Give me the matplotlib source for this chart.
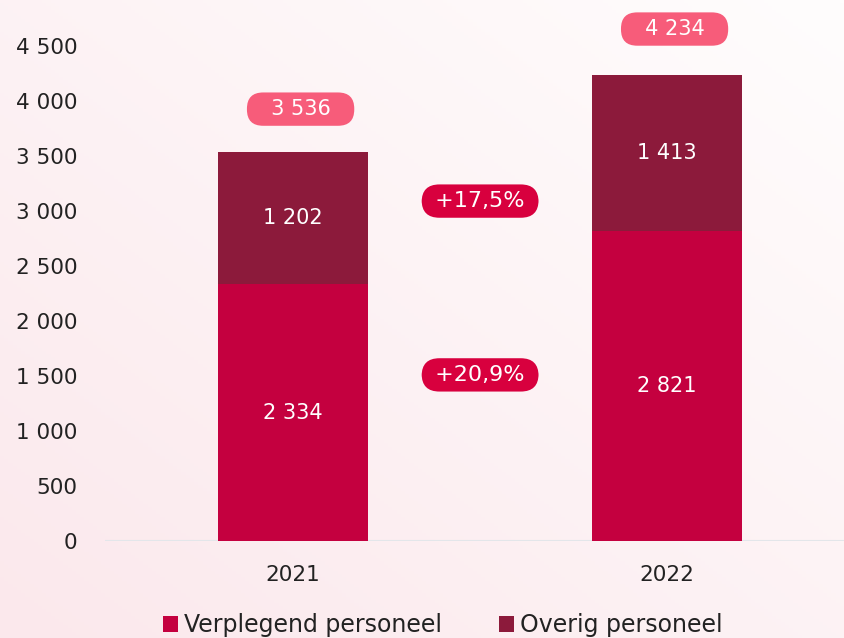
import matplotlib
matplotlib.use('Agg')
import matplotlib.pyplot as plt
import numpy as np

years = ['2021', '2022']
verplegend = [2334, 2821]
overig = [1202, 1413]
totals = [3536, 4234]
growth_labels = ['+20,9%', '+17,5%']
growth_y = [1510, 3090]

c_bottom = '#C4003F'
c_top = '#8C1A3B'
c_total = '#F75C7A'
c_growth = '#D8003E'
txt = '#222222'

plt.rcParams['font.family'] = ['DejaVu Sans']


def fmt(v):
    return f'{v:,}'.replace(',', ' ')


fig = plt.figure(figsize=(8.44, 6.38), dpi=100)

# soft pink gradient background (bottom-left -> white top-right)
bg = fig.add_axes([0, 0, 1, 1], zorder=-10)
gx, gy = np.meshgrid(np.linspace(0, 1, 200), np.linspace(0, 1, 200))
t = np.clip((gx + (1 - gy)) / 2, 0, 1)  # 0 at bottom-left
c0 = np.array([251, 232, 236]) / 255
c1 = np.array([255, 253, 253]) / 255
img = c0[None, None, :] * (1 - t[..., None]) + c1[None, None, :] * t[..., None]
bg.imshow(img, extent=[0, 1, 0, 1], aspect='auto', origin='upper')
bg.axis('off')

ax = fig.add_axes([105 / 844, 97 / 638, 739 / 844, 541 / 638])
ax.patch.set_alpha(0)

x = np.arange(len(years))
w = 0.40
b1 = ax.bar(x, verplegend, w, color=c_bottom, label='Verplegend personeel', zorder=3)
b2 = ax.bar(x, overig, w, bottom=verplegend, color=c_top, label='Overig personeel', zorder=3)

for i in range(len(years)):
    ax.text(x[i], verplegend[i] / 2, fmt(verplegend[i]), ha='center', va='center',
            color='white', fontsize=15, zorder=4)
    ax.text(x[i], verplegend[i] + overig[i] / 2, fmt(overig[i]), ha='center', va='center',
            color='white', fontsize=15, zorder=4)
    # totals in a pill above each bar
    ax.text(x[i] + 0.02, totals[i] + 390 + 30 * i, ' \u2002' + fmt(totals[i]) + '\u2002 ',
            ha='center', va='center', color='white', fontsize=15, zorder=5,
            bbox=dict(boxstyle='round,pad=0.32,rounding_size=0.78', fc=c_total, ec='none'))

for lab, yy in zip(growth_labels, growth_y):
    ax.text(0.5, yy, ' ' + lab + ' ', ha='center', va='center', color='white', fontsize=16,
            zorder=5,
            bbox=dict(boxstyle='round,pad=0.3,rounding_size=0.8', fc=c_growth, ec='none'))

ax.set_xlim(-0.503, 1.473)
ax.set_ylim(0, 4918)
ax.set_yticks(np.arange(0, 4501, 500))
ax.set_yticklabels([fmt(v) for v in range(0, 4501, 500)])
ax.set_xticks(x)
ax.set_xticklabels(years)
ax.tick_params(axis='both', length=0, labelsize=15.5, colors=txt)
ax.tick_params(axis='y', pad=20)
ax.tick_params(axis='x', pad=17)
for s in ax.spines.values():
    s.set_visible(False)
ax.axhline(0, color='#E3E6EA', lw=1.5, zorder=2)

fig.legend(handles=[b1, b2], loc='center', bbox_to_anchor=(443 / 844, 1 - 625 / 638),
           ncol=2, frameon=False, fontsize=17, handlelength=0.65, handleheight=0.65,
           handletextpad=0.25, columnspacing=2.4, labelcolor=txt)

fig.savefig('out.png', dpi=100)
